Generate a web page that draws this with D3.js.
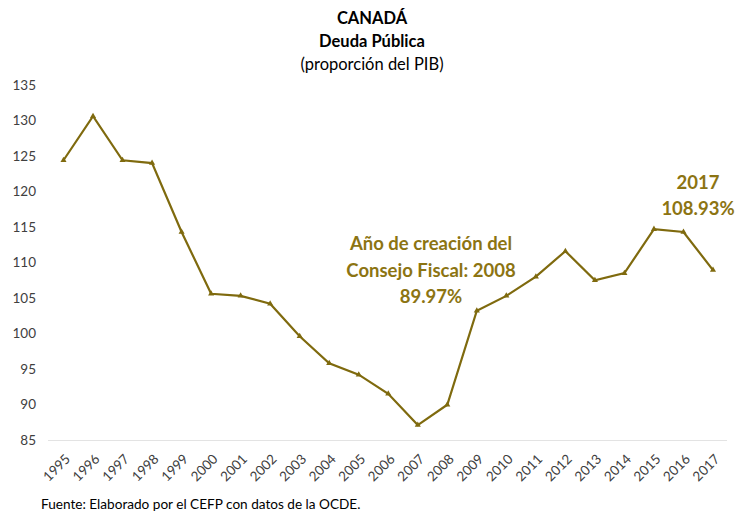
<!DOCTYPE html>
<html>
<head>
<meta charset="utf-8">
<script src="https://cdn.jsdelivr.net/npm/d3@7"></script>
<style>
  body { margin: 0; background: #fff; }
  svg text { font-family: Lato, "Open Sans", sans-serif; }
</style>
</head>
<body>
<svg id="chart" width="738" height="515"></svg>
<script>
// Canadá: deuda pública como proporción del PIB
const years = ["1995","1996","1997","1998","1999","2000","2001","2002","2003","2004","2005","2006",
               "2007","2008","2009","2010","2011","2012","2013","2014","2015","2016","2017"];
const debt = [124.4, 130.6, 124.4, 124.0, 114.3, 105.6, 105.3, 104.2, 99.6, 95.8, 94.2, 91.5,
              87.1, 89.97, 103.2, 105.3, 108.0, 111.6, 107.5, 108.5, 114.7, 114.3, 108.93];
const yTicks = [85, 90, 95, 100, 105, 110, 115, 120, 125, 130, 135];
const titleLines = ["CANADÁ", "Deuda Pública", "(proporción del PIB)"];
const noteCouncil = ["Año de creación del", "Consejo Fiscal: 2008", "89.97%"];
const noteLast = ["2017", "108.93%"];
const sourceText = "Fuente: Elaborado por el CEFP con datos de la OCDE.";

const svg = d3.select("#chart");
const lineColor = "#7f6a0e";
const noteColor = "#8c7412";

const x = d3.scalePoint().domain(years).range([63.5, 713]);
const y = d3.scaleLinear().domain([85, 135]).range([440, 85]);

// Título
svg.append("g").selectAll("text").data(titleLines).join("text")
  .attr("x", 372).attr("y", (d, i) => 24 + i * 23)
  .attr("text-anchor", "middle")
  .attr("font-size", 16.5)
  .attr("font-weight", (d, i) => i < 2 ? "bold" : "normal")
  .attr("fill", "#000")
  .text(d => d);

// Eje Y (solo etiquetas)
const yAxis = svg.append("g").attr("transform", "translate(36,0)")
  .call(d3.axisLeft(y).tickValues(yTicks).tickSize(0).tickPadding(0));
yAxis.select(".domain").remove();
yAxis.selectAll("text").attr("font-size", 13.5).attr("fill", "#404040")
  .style("font-family", "Lato, 'Open Sans', sans-serif");

// Eje X
const xAxis = svg.append("g").attr("transform", "translate(0,440)")
  .call(d3.axisBottom(x).tickSize(0).tickPadding(0));
xAxis.select(".domain").attr("d", "M48,0.5H727").attr("stroke", "#e3e3e3").attr("stroke-width", 1);
xAxis.selectAll("text")
  .attr("font-size", 13.5).attr("fill", "#404040")
  .style("font-family", "Lato, 'Open Sans', sans-serif")
  .attr("text-anchor", "end")
  .attr("dy", null).attr("y", 0)
  .attr("transform", "translate(7,20) rotate(-45)");

// Serie
svg.append("path")
  .datum(debt)
  .attr("fill", "none")
  .attr("stroke", lineColor)
  .attr("stroke-width", 2.2)
  .attr("stroke-linejoin", "miter")
  .attr("d", d3.line().x((d, i) => x(years[i])).y(d => y(d)));

svg.append("g").selectAll("path").data(debt).join("path")
  .attr("d", d3.symbol().type(d3.symbolTriangle).size(16))
  .attr("transform", (d, i) => `translate(${x(years[i])},${y(d)})`)
  .attr("fill", lineColor);

// Anotaciones
svg.append("g").selectAll("text").data(noteCouncil).join("text")
  .attr("x", 431).attr("y", (d, i) => 250 + i * 26.5)
  .attr("text-anchor", "middle")
  .attr("font-size", 18.5).attr("font-weight", "bold")
  .attr("fill", noteColor)
  .text(d => d);

svg.append("g").selectAll("text").data(noteLast).join("text")
  .attr("x", 698).attr("y", (d, i) => 189 + i * 26)
  .attr("text-anchor", "middle")
  .attr("font-size", 18.5).attr("font-weight", "bold")
  .attr("fill", noteColor)
  .text(d => d);

// Fuente
svg.append("text")
  .attr("x", 41).attr("y", 509)
  .attr("font-size", 13.6).attr("fill", "#000")
  .text(sourceText);
</script>
</body>
</html>
